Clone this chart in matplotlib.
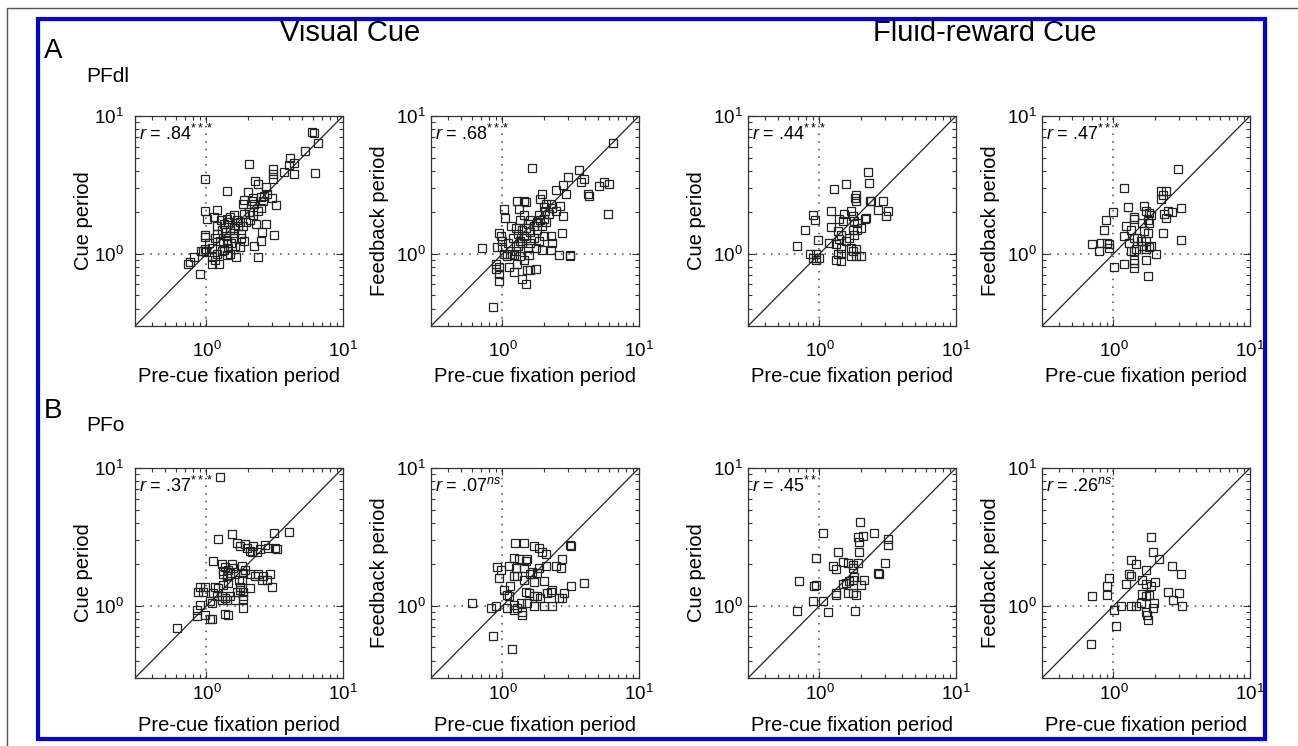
import numpy as np
import matplotlib
matplotlib.use("Agg")
import matplotlib.pyplot as plt
from matplotlib.patches import Rectangle
from matplotlib.lines import Line2D

plt.rcParams['font.family'] = ['Liberation Sans', 'DejaVu Sans']
plt.rcParams['mathtext.fontset'] = 'custom'
plt.rcParams['mathtext.rm'] = 'Liberation Sans'
plt.rcParams['mathtext.it'] = 'Liberation Sans:italic'

# ---- data: (pre-cue fixation rate, cue/feedback rate) per neuron ----
pfdl_visual_cue = [
    (5.9, 7.7), (6.1, 7.5), (6.6, 6.4), (5.3, 5.6), (6.2, 3.85), (4.1, 5.0), (4.0, 4.4),
    (4.4, 4.6), (4.4, 3.8), (3.7, 3.9), (3.05, 4.1), (3.05, 3.8), (3.05, 3.5), (2.05, 4.5),
    (0.98, 3.5), (1.42, 2.85), (2.26, 3.4), (2.37, 3.2), (2.0, 2.8), (2.73, 3.05), (2.65, 2.65),
    (2.8, 2.72), (3.0, 2.55), (3.24, 2.28), (0.98, 2.06), (1.01, 1.8), (1.2, 2.08), (2.17, 2.43),
    (2.23, 2.3), (1.9, 2.45), (1.85, 2.3), (2.4, 2.05), (2.5, 2.15), (2.6, 2.4), (1.9, 1.95),
    (3.1, 1.36), (2.73, 1.65), (2.57, 1.44), (2.5, 1.25), (2.23, 1.15), (2.37, 0.95), (0.98, 1.33),
    (0.97, 1.36), (0.95, 1.05), (0.98, 1.09), (1.0, 1.03), (0.92, 1.05), (0.81, 0.95), (0.76, 0.88),
    (0.73, 0.85), (0.9, 0.72), (1.1, 0.85), (1.16, 0.9), (1.23, 0.85), (1.34, 1.06), (1.42, 0.98),
    (1.5, 1.0), (1.64, 0.95), (1.13, 1.85), (1.27, 1.75), (1.34, 1.65), (1.42, 1.8), (1.5, 1.85),
    (1.58, 1.9), (1.67, 1.75), (1.75, 1.7), (1.2, 1.6), (1.3, 1.5), (1.38, 1.45), (1.5, 1.5),
    (1.58, 1.42), (1.7, 1.6), (1.85, 1.6), (1.95, 1.7), (1.8, 1.4), (1.9, 1.25), (1.25, 1.25),
    (1.32, 1.2), (1.42, 1.25), (1.52, 1.2), (1.62, 1.15), (1.75, 1.12), (1.8, 1.3), (1.2, 1.4),
    (1.1, 1.1), (1.05, 1.2), (1.15, 1.3), (1.4, 1.35), (1.6, 1.3), (2.1, 1.75), (2.2, 1.9),
    (2.05, 2.0), (2.3, 1.65), (1.3, 1.05), (1.45, 1.1), (1.2, 1.0), (1.1, 0.95), (1.6, 1.55),
    (1.45, 1.7), (2.5, 2.6), (2.2, 2.55),
]
pfdl_visual_feedback = [
    (6.4, 6.4), (1.65, 4.2), (3.64, 4.05), (3.0, 3.6), (3.95, 3.5), (3.75, 3.3), (2.8, 3.14),
    (2.45, 2.9), (2.9, 2.7), (4.2, 2.7), (4.3, 2.65), (5.1, 3.1), (5.55, 3.3), (6.0, 3.2),
    (5.9, 1.94), (1.96, 2.7), (1.43, 2.43), (1.48, 2.36), (1.28, 2.43), (1.32, 2.1), (1.02, 2.1),
    (1.05, 1.83), (1.9, 2.5), (2.0, 2.2), (2.25, 2.3), (2.45, 2.05), (2.66, 2.23), (2.8, 1.88),
    (2.75, 1.42), (2.25, 1.34), (2.3, 1.2), (1.95, 1.07), (2.25, 1.07), (2.6, 0.98), (3.1, 0.98),
    (3.15, 0.96), (0.71, 1.1), (0.94, 1.42), (0.97, 1.34), (1.0, 1.13), (0.92, 1.13), (0.89, 0.85),
    (0.94, 0.81), (0.89, 0.78), (0.94, 0.72), (0.94, 0.64), (0.86, 0.41), (1.11, 0.81), (1.21, 0.74),
    (1.28, 0.85), (1.52, 0.76), (1.6, 0.76), (1.75, 0.78), (1.4, 0.66), (1.48, 0.6), (1.02, 1.0),
    (1.08, 0.96), (1.14, 1.0), (1.21, 0.98), (1.35, 0.96), (1.43, 0.9), (1.56, 0.98), (1.3, 1.15),
    (1.35, 1.25), (1.4, 1.2), (1.45, 1.35), (1.5, 1.3), (1.3, 1.4), (1.4, 1.5), (1.5, 1.55),
    (1.6, 1.45), (1.7, 1.6), (1.8, 1.7), (1.9, 1.75), (1.95, 1.6), (1.85, 1.9), (2.0, 1.8),
    (2.1, 1.7), (1.8, 1.5), (1.7, 1.3), (1.6, 1.2), (1.55, 1.1), (1.2, 1.3), (1.25, 1.55),
    (1.15, 1.6), (1.6, 1.75), (1.45, 1.9), (1.35, 1.75), (1.25, 1.05), (1.55, 1.65), (2.0, 1.35),
    (1.85, 1.25), (1.75, 1.1), (2.05, 2.05), (2.2, 1.95), (2.3, 2.15), (2.1, 2.3), (1.1, 1.2),
    (1.0, 1.25),
]
pfdl_fluid_cue = [
    (2.26, 3.95), (2.32, 3.25), (1.57, 3.2), (1.27, 2.98), (1.86, 2.68), (1.82, 2.53), (1.86, 2.42),
    (2.4, 2.42), (2.33, 2.4), (2.9, 2.42), (3.16, 2.05), (3.07, 1.88), (2.7, 2.07), (1.22, 2.05),
    (0.89, 1.92), (0.93, 1.75), (0.79, 1.48), (0.69, 1.14), (0.97, 1.27), (1.22, 1.56), (1.4, 1.78),
    (1.52, 1.94), (1.48, 1.73), (1.7, 2.05), (1.75, 1.88), (1.8, 1.73), (1.9, 1.68), (1.75, 1.5),
    (1.8, 1.38), (1.9, 1.48), (2.0, 1.55), (2.2, 1.83), (2.15, 1.8), (1.36, 1.46), (1.44, 1.38),
    (1.4, 1.28), (1.33, 1.17), (1.44, 1.1), (1.18, 1.2), (1.44, 1.0), (1.36, 0.99), (1.44, 0.89),
    (1.33, 0.91), (1.7, 1.1), (1.75, 1.05), (1.86, 1.08), (1.7, 0.96), (1.86, 0.97), (2.0, 0.96),
    (0.95, 0.99), (0.95, 0.91), (0.89, 0.94), (1.0, 0.94), (0.85, 0.99), (1.57, 1.24), (1.65, 1.31),
]
pfdl_fluid_feedback = [
    (2.95, 4.13), (1.2, 3.0), (1.27, 2.19), (0.99, 2.01), (0.88, 1.75), (0.85, 1.5), (2.23, 2.87),
    (2.3, 2.68), (2.42, 2.85), (2.23, 2.5), (2.5, 2.05), (2.7, 2.0), (3.12, 2.15), (2.36, 1.94),
    (2.42, 1.82), (2.3, 1.42), (3.12, 1.27), (1.68, 2.23), (1.73, 2.05), (1.83, 1.97), (1.88, 1.9),
    (1.78, 1.75), (1.83, 1.68), (1.63, 1.68), (1.68, 1.46), (1.78, 1.42), (1.42, 1.85), (1.42, 1.8),
    (1.23, 1.6), (1.34, 1.5), (1.42, 1.3), (1.5, 1.3), (1.58, 1.24), (1.2, 1.34), (1.3, 1.2),
    (1.63, 1.14), (1.73, 1.08), (1.83, 1.13), (1.88, 1.15), (1.73, 1.25), (1.34, 1.05), (1.42, 1.05),
    (1.46, 1.08), (1.42, 0.91), (1.42, 0.86), (1.42, 0.79), (1.2, 0.84), (1.01, 0.8), (2.05, 0.99),
    (1.73, 0.91), (1.78, 0.69), (0.7, 1.17), (0.79, 1.05), (0.81, 1.2), (0.9, 1.2), (0.93, 1.17),
    (0.93, 1.1),
]
pfo_visual_cue = [
    (1.26, 8.6), (3.1, 3.36), (4.0, 3.44), (1.53, 3.34), (1.22, 3.07), (1.67, 2.88), (1.76, 2.72),
    (1.92, 2.79), (1.97, 2.64), (2.09, 2.5), (2.2, 2.72), (2.14, 2.44), (2.33, 2.44), (2.47, 2.57),
    (2.7, 2.78), (2.84, 2.64), (3.18, 2.64), (3.27, 2.6), (1.12, 2.1), (1.3, 2.0), (1.37, 1.92),
    (1.33, 1.78), (1.45, 1.83), (1.53, 2.0), (1.57, 1.89), (1.81, 1.94), (1.92, 1.83), (1.86, 1.73),
    (1.33, 1.69), (1.41, 1.64), (1.49, 1.73), (1.62, 1.69), (2.09, 1.69), (2.27, 1.64), (2.4, 1.69),
    (2.6, 1.64), (2.76, 1.55), (2.92, 1.69), (3.0, 1.38), (2.54, 1.55), (0.9, 1.38), (0.98, 1.38),
    (0.87, 1.27), (0.95, 1.27), (1.16, 1.38), (1.22, 1.35), (1.33, 1.42), (1.45, 1.46), (1.72, 1.55),
    (1.81, 1.55), (1.76, 1.38), (1.12, 1.24), (1.19, 1.17), (1.3, 1.17), (1.41, 1.11), (1.49, 1.17),
    (1.67, 1.27), (1.76, 1.31), (1.86, 1.27), (1.86, 1.17), (2.09, 1.35), (1.62, 1.11), (1.86, 1.12),
    (1.86, 0.96), (1.37, 1.14), (1.3, 1.11), (1.09, 1.05), (1.06, 1.08), (0.9, 1.02), (0.85, 0.93),
    (0.85, 0.84), (0.98, 0.86), (1.06, 0.81), (1.09, 0.81), (1.37, 0.88), (1.45, 0.86), (0.61, 0.69),
]
pfo_visual_feedback = [
    (1.23, 2.86), (1.43, 2.84), (1.7, 2.7), (1.85, 2.65), (3.1, 2.76), (3.16, 2.73), (1.96, 2.44),
    (2.07, 2.37), (1.21, 2.24), (1.32, 2.18), (1.52, 2.2), (1.48, 2.12), (0.91, 1.92), (0.97, 1.82),
    (1.11, 1.95), (1.25, 1.89), (1.43, 1.89), (1.85, 1.89), (2.07, 1.95), (2.45, 1.95), (2.75, 2.18),
    (2.67, 1.89), (1.65, 1.76), (1.6, 1.69), (1.8, 1.74), (1.21, 1.64), (1.28, 1.66), (0.94, 1.6),
    (1.43, 1.55), (1.7, 1.48), (2.01, 1.51), (3.16, 1.39), (3.96, 1.46), (1.14, 1.39), (1.02, 1.31),
    (1.08, 1.2), (1.11, 1.17), (1.48, 1.27), (1.56, 1.24), (1.7, 1.17), (1.8, 1.17), (1.9, 1.14),
    (2.13, 1.24), (2.25, 1.27), (2.32, 1.31), (2.6, 1.14), (2.75, 1.14), (2.82, 1.24), (0.6, 1.05),
    (0.82, 0.96), (0.89, 0.99), (1.08, 0.96), (1.21, 0.93), (1.28, 0.96), (1.4, 0.91), (1.4, 0.86),
    (1.21, 1.02), (1.36, 1.05), (1.52, 1.05), (1.7, 1.0), (2.01, 0.99), (2.32, 0.99), (0.86, 0.6),
    (1.18, 0.49),
]
pfo_fluid_cue = [
    (1.99, 4.05), (1.06, 3.39), (2.53, 3.37), (1.91, 3.14), (2.07, 3.23), (1.96, 2.89), (3.16, 3.06),
    (3.16, 2.76), (1.36, 2.47), (1.96, 2.48), (0.95, 2.24), (1.25, 1.95), (1.32, 1.84), (1.48, 2.08),
    (1.61, 2.03), (1.75, 1.97), (1.91, 2.03), (1.75, 1.89), (3.04, 2.03), (2.67, 1.74), (2.72, 1.69),
    (0.71, 1.51), (0.92, 1.39), (0.95, 1.41), (1.48, 1.45), (1.57, 1.47), (1.66, 1.51), (1.8, 1.62),
    (1.75, 1.55), (2.13, 1.55), (2.02, 1.41), (1.32, 1.24), (1.32, 1.2), (1.61, 1.25), (1.75, 1.24),
    (1.85, 1.2), (0.89, 1.09), (1.06, 1.09), (0.68, 0.92), (1.15, 0.9), (1.83, 0.92),
]
pfo_fluid_feedback = [
    (1.9, 3.14), (1.96, 2.44), (2.14, 2.18), (1.34, 2.15), (1.46, 2.0), (1.3, 1.69), (1.34, 1.66),
    (1.73, 1.81), (0.93, 1.6), (0.9, 1.4), (1.23, 1.45), (1.63, 1.55), (1.73, 1.43), (1.88, 1.4),
    (2.0, 1.49), (2.7, 1.95), (3.12, 1.71), (0.7, 1.17), (0.9, 1.2), (1.63, 1.22), (1.73, 1.18),
    (1.83, 1.19), (2.52, 1.27), (2.72, 1.11), (3.04, 1.24), (1.01, 0.93), (1.13, 0.99), (1.34, 0.99),
    (1.46, 0.99), (1.59, 1.05), (1.99, 1.05), (1.96, 0.96), (3.16, 0.99), (1.74, 0.91), (1.76, 0.86),
    (1.8, 0.79), (1.04, 0.72), (0.68, 0.53),
]

r_labels = [
    r'$\it{r}$ = .84$^{***}$', r'$\it{r}$ = .68$^{***}$', r'$\it{r}$ = .44$^{***}$', r'$\it{r}$ = .47$^{***}$',
    r'$\it{r}$ = .37$^{***}$', r'$\it{r}$ = .07$^{\it{ns}}$', r'$\it{r}$ = .45$^{**}$', r'$\it{r}$ = .26$^{\it{ns}}$',
]
panels = [pfdl_visual_cue, pfdl_visual_feedback, pfdl_fluid_cue, pfdl_fluid_feedback,
          pfo_visual_cue, pfo_visual_feedback, pfo_fluid_cue, pfo_fluid_feedback]
ylabels = ['Cue period', 'Feedback period', 'Cue period', 'Feedback period'] * 2
xlabel = 'Pre-cue fixation period'
lo, hi = 0.3, 10

W, H = 1298, 746
fig = plt.figure(figsize=(W / 100, H / 100), dpi=100)

lefts = [135, 431, 748, 1042]
tops = [116, 468]
aw, ah = 208, 210

for i, pts in enumerate(panels):
    row, col = divmod(i, 4)
    l, t = lefts[col], tops[row]
    ax = fig.add_axes([l / W, 1 - (t + ah) / H, aw / W, ah / H])
    x, y = np.array(pts).T
    ax.set_xscale('log')
    ax.set_yscale('log')
    ax.set_xlim(lo, hi)
    ax.set_ylim(lo, hi)
    ax.plot([lo, hi], [lo, hi], color='#222222', lw=0.9, zorder=1)
    ax.axvline(1, color='#444444', lw=1.1, ls=(0, (1, 4)), zorder=1)
    ax.axhline(1, color='#444444', lw=1.1, ls=(0, (1, 4)), zorder=1)
    ax.plot(x, y, 's', mfc='none', mec='#222222', ms=6, mew=0.9, zorder=2)
    ax.text(0.02, 0.915, r_labels[i], transform=ax.transAxes, fontsize=13, va='center', ha='left')
    ax.tick_params(which='both', direction='in', top=True, right=True, width=0.8, labelsize=13.5,
                   color='#333333')
    ax.tick_params(which='major', length=5)
    ax.tick_params(which='minor', length=3)
    ax.tick_params(axis='x', pad=11 if row == 0 else 4)
    ax.tick_params(axis='y', pad=8 if col == 0 else 4)
    for s in ax.spines.values():
        s.set_linewidth(0.9)
        s.set_color('#333333')
    ax.set_xlabel(xlabel, fontsize=14.5)
    ax.set_ylabel(ylabels[i], fontsize=14.5)
    ax.xaxis.set_label_coords(0.5, -(41 if row == 0 else 38) / ah)
    ax.yaxis.set_label_coords(-42 / aw, 0.5)

# headings
fig.text(350 / W, 1 - 33 / H, 'Visual Cue', fontsize=21, ha='center', va='center')
fig.text(985 / W, 1 - 33 / H, 'Fluid-reward Cue', fontsize=21, ha='center', va='center')
fig.text(44 / W, 1 - 51 / H, 'A', fontsize=20, ha='left', va='center')
fig.text(86 / W, 1 - 76 / H, 'PFdl', fontsize=15, ha='left', va='center')
fig.text(44 / W, 1 - 411 / H, 'B', fontsize=20, ha='left', va='center')
fig.text(86 / W, 1 - 425 / H, 'PFo', fontsize=15, ha='left', va='center')

# frames
fig.add_artist(Rectangle((38 / W, 1 - 739 / H), (1265 - 38) / W, (739 - 19) / H,
                         transform=fig.transFigure, fill=False, edgecolor='#0000e6', lw=3))
fig.add_artist(Line2D([7 / W, 7 / W, 1], [0, 1 - 8 / H, 1 - 8 / H],
                      transform=fig.transFigure, color='#555555', lw=1))

fig.savefig('out.png', dpi=100)
